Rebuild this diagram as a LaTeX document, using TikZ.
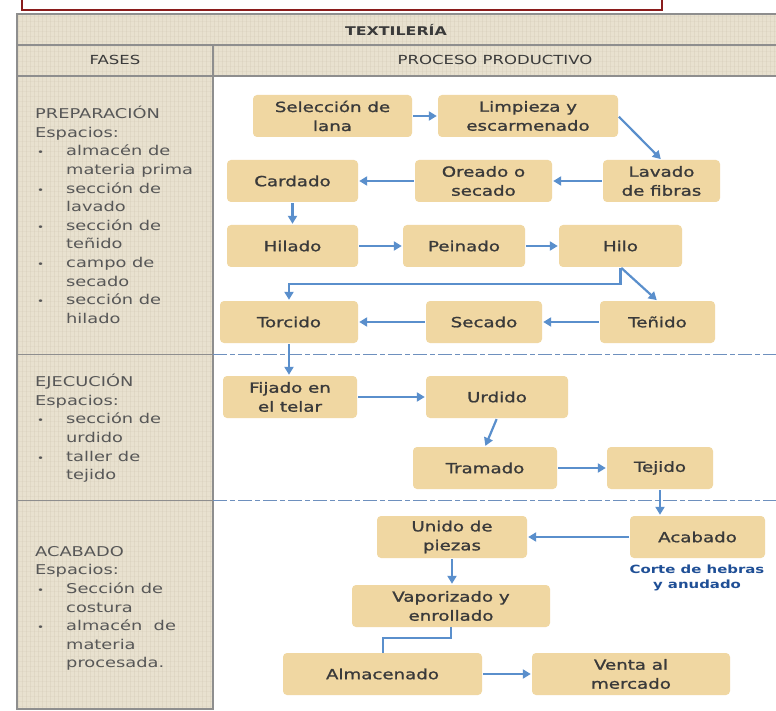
\documentclass[tikz,border=0pt]{standalone}
\usepackage{fontspec}
\setmainfont{DejaVu Sans}[FakeStretch=1.32]
\newfontfamily\cajafont{DejaVu Sans}[FakeStretch=1.3, FakeBold=1.2]
\usepackage{xcolor}
\usetikzlibrary{arrows.meta}
\definecolor{lino}{HTML}{E8E1CF}
\definecolor{linoraya}{HTML}{CFC6B1}
\definecolor{caja}{HTML}{F0D7A2}
\definecolor{flechazul}{HTML}{5A8FCC}
\definecolor{guion}{HTML}{6E90BE}
\definecolor{textogris}{HTML}{3A3A3A}
\definecolor{notazul}{HTML}{1F4F96}
\definecolor{marco}{HTML}{8A1C1C}
\definecolor{borde}{HTML}{8E8E8E}

\newcommand{\punto}{\makebox[31pt][l]{\hspace{2pt}{\fontsize{9}{9}\selectfont •}}}
\newcommand{\sangria}{\hspace*{31pt}}

\begin{document}
\begin{tikzpicture}[x=1pt, y=-1pt,
      etapa/.style={fill=caja, rounded corners=4pt, align=center, minimum height=42pt, inner sep=2pt,
                    text=textogris, font=\cajafont\fontsize{14}{19}\selectfont},
      fase/.style={anchor=north west, align=left, inner sep=0pt, text=textogris!85,
                   font=\fontsize{13.5}{18.6}\selectfont},
      cabecera/.style={text=textogris, font=\fontsize{12.5}{14}\selectfont},
      flecha/.style={-{Triangle[length=8pt,width=9pt]}, draw=flechazul, line width=2.2pt,
                     shorten >=1pt, shorten <=1pt},
      enlace/.style={draw=flechazul, line width=2pt},
      division/.style={draw=guion, line width=0.9pt, dash pattern=on 14pt off 3pt on 5pt off 3pt}]
    \useasboundingbox (0,0) rectangle (776,711);
    \fill[white] (0,0) rectangle (776,711);
    \draw[marco, line width=2pt] (22,-5) rectangle (662,10);

    \fill[lino] (17,14) rectangle (780,76);
    \fill[lino] (17,76) rectangle (213,709);
    \begin{scope}
      \clip (17,14) rectangle (780,76) (17,76) rectangle (213,709);
      \foreach \i in {18,22,...,780}
        \draw[linoraya, line width=0.6pt, opacity=0.3] (\i,14) -- (\i,709);
      \foreach \j in {16,21,...,709}
        \draw[linoraya, line width=0.6pt, opacity=0.2] (17,\j) -- (780,\j);
    \end{scope}
    \draw[borde, line width=1.2pt] (780,14) -- (17,14) -- (17,709) -- (213,709) -- (213,45);
    \draw[borde, line width=1.2pt] (17,45) -- (780,45);
    \draw[borde, line width=1.2pt] (17,76) -- (780,76);
    \draw[borde, line width=1pt] (17,354) -- (213,354);
    \draw[borde, line width=1pt] (17,500) -- (213,500);
    \draw[division] (213,354) -- (776,354);
    \draw[division] (213,500) -- (776,500);

    \node[cabecera, font=\bfseries\fontsize{12}{14}\selectfont] (titulo) at (396,30) {TEXTILERÍA};
    \node[cabecera] (fases) at (115,60) {FASES};
    \node[cabecera] (proceso) at (495,60) {PROCESO PRODUCTIVO};

    \node[fase] (preparacion) at (35,106) {PREPARACIÓN\\Espacios:\\\punto almacén de\\\sangria materia prima\\
      \punto sección de\\\sangria lavado\\\punto sección de\\\sangria teñido\\\punto campo de\\\sangria secado\\
      \punto sección de\\\sangria hilado};
    \node[fase] (ejecucion) at (35,374) {EJECUCIÓN\\Espacios:\\\punto sección de\\\sangria urdido\\
      \punto taller de\\\sangria tejido};
    \node[fase] (acabadofase) at (35,546) {ACABADO\\Espacios:\\\punto Sección de\\\sangria costura\\
      \punto almacén\ \ de\\\sangria materia\\\sangria procesada.};

    \node[etapa, minimum width=159pt] (seleccion) at (332.5,116) {Selección de\\lana};
    \node[etapa, minimum width=180pt] (limpieza) at (528,116) {Limpieza y\\escarmenado};
    \node[etapa, minimum width=117pt] (lavado) at (661.5,181) {Lavado\\de fibras};
    \node[etapa, minimum width=137pt] (oreado) at (483.5,181) {Oreado o\\secado};
    \node[etapa, minimum width=131pt] (cardado) at (292.5,181) {Cardado};
    \node[etapa, minimum width=131pt] (hilado) at (292.5,246) {Hilado};
    \node[etapa, minimum width=122pt] (peinado) at (464,246) {Peinado};
    \node[etapa, minimum width=123pt] (hilo) at (620.5,246) {Hilo};
    \node[etapa, minimum width=115pt] (tenido) at (657.5,322) {Teñido};
    \node[etapa, minimum width=116pt] (secado) at (484,322) {Secado};
    \node[etapa, minimum width=138pt] (torcido) at (289,322) {Torcido};
    \node[etapa, minimum width=134pt] (fijado) at (290,397) {Fijado en\\el telar};
    \node[etapa, minimum width=142pt] (urdido) at (497,397) {Urdido};
    \node[etapa, minimum width=144pt] (tramado) at (485,468) {Tramado};
    \node[etapa, minimum width=106pt] (tejido) at (660,468) {Tejido};
    \node[etapa, minimum width=135pt] (acabado) at (697.5,537) {Acabado};
    \node[text=notazul, align=center, inner sep=0pt, font=\bfseries\fontsize{11.3}{15}\selectfont]
      (nota) at (697,578) {Corte de hebras\\y anudado};
    \node[etapa, minimum width=150pt] (unido) at (452,537) {Unido de\\piezas};
    \node[etapa, minimum width=198pt] (vaporizado) at (451,606) {Vaporizado y\\enrollado};
    \node[etapa, minimum width=199pt] (almacenado) at (382.5,674) {Almacenado};
    \node[etapa, minimum width=198pt] (venta) at (631,674) {Venta al\\mercado};

    \draw[flecha] (seleccion.east) -- (limpieza.west);
    \draw[flecha] (limpieza.east) -- (lavado.north);
    \draw[flecha] (lavado.west) -- (oreado.east);
    \draw[flecha] (oreado.west) -- (cardado.east);
    \draw[flecha] (cardado.south) -- (hilado.north);
    \draw[flecha] (hilado.east) -- (peinado.west);
    \draw[flecha] (peinado.east) -- (hilo.west);
    \draw[flecha] (hilo.south) -- (tenido.north);
    \draw[flecha] (hilo.south) -- ++(0,17) -| (torcido.north);
    \draw[flecha] (tenido.west) -- (secado.east);
    \draw[flecha] (secado.west) -- (torcido.east);
    \draw[flecha] (torcido.south) -- (torcido.south |- fijado.north);
    \draw[flecha] (fijado.east) -- (urdido.west);
    \draw[flecha] (urdido.south) -- (tramado.north);
    \draw[flecha] (tramado.east) -- (tejido.west);
    \draw[flecha] (tejido.south) -- (tejido.south |- acabado.north);
    \draw[flecha] (acabado.west) -- (unido.east);
    \draw[flecha] (unido.south) -- (unido.south |- vaporizado.north);
    \draw[enlace] (vaporizado.south) -- ++(0,11) -| (almacenado.north);
    \draw[flecha] (almacenado.east) -- (venta.west);
  \end{tikzpicture}
\end{document}
